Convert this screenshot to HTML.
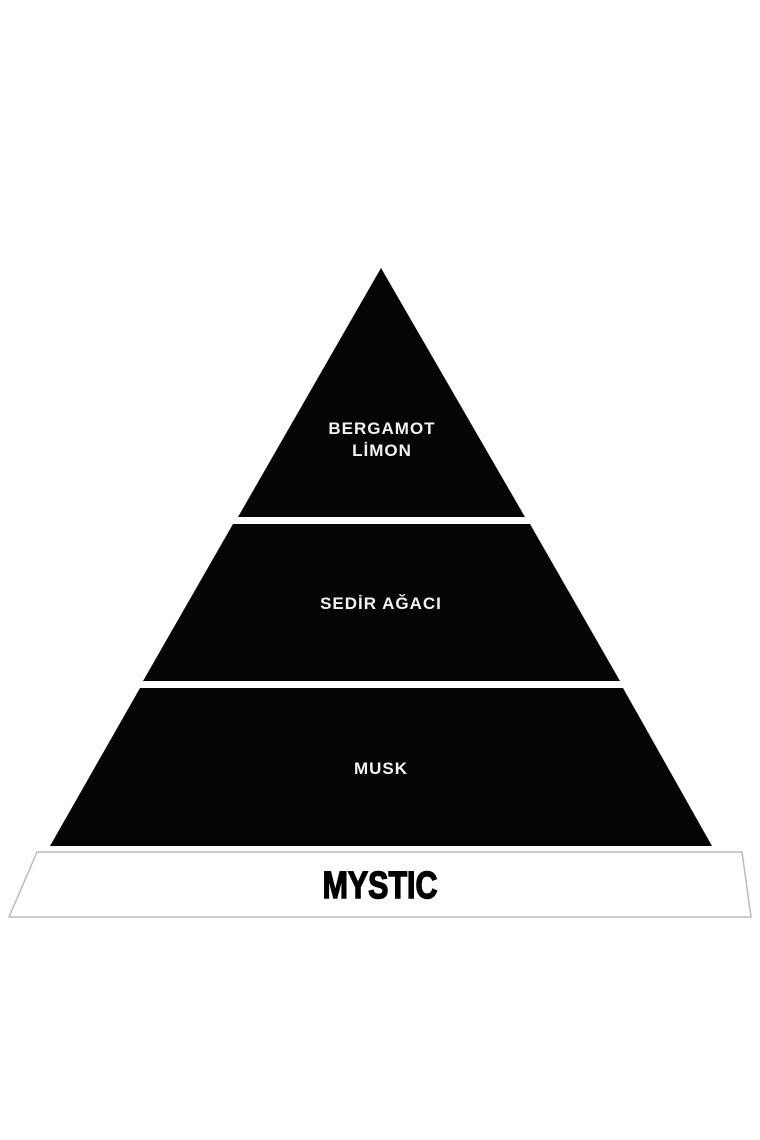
<!DOCTYPE html>
<html><head><meta charset="utf-8"><style>
html,body{margin:0;padding:0;background:#fff;width:760px;height:1140px;overflow:hidden}
</style></head><body>
<svg width="760" height="1140" viewBox="0 0 760 1140" xmlns="http://www.w3.org/2000/svg">
<polygon points="381,268 525,517 238,517" fill="#050505"/>
<polygon points="233,524 530,524 620,681 143,681" fill="#050505"/>
<polygon points="140,688 623,688 712,846 50,846" fill="#050505"/>
<polygon points="37,852 742,852 751,917 9,917" fill="#fff" stroke="#bbb" stroke-width="1.5"/>
<g font-family="Liberation Sans, sans-serif" font-weight="bold" fill="#f2f2f2" font-size="17" text-anchor="middle" letter-spacing="1">
<text x="382" y="434">BERGAMOT</text>
<text x="382" y="456">LİMON</text>
<text x="381" y="609">SEDİR AĞACI</text>
<text x="381" y="774">MUSK</text>
</g>
<text x="380" y="898" font-family="Liberation Sans Narrow, Liberation Sans, sans-serif" font-weight="bold" font-size="38" text-anchor="middle" fill="#000" stroke="#000" stroke-width="1.5" transform="translate(380 0) scale(0.8 1) translate(-380 0)">MYSTIC</text>
</svg>
</body></html>
